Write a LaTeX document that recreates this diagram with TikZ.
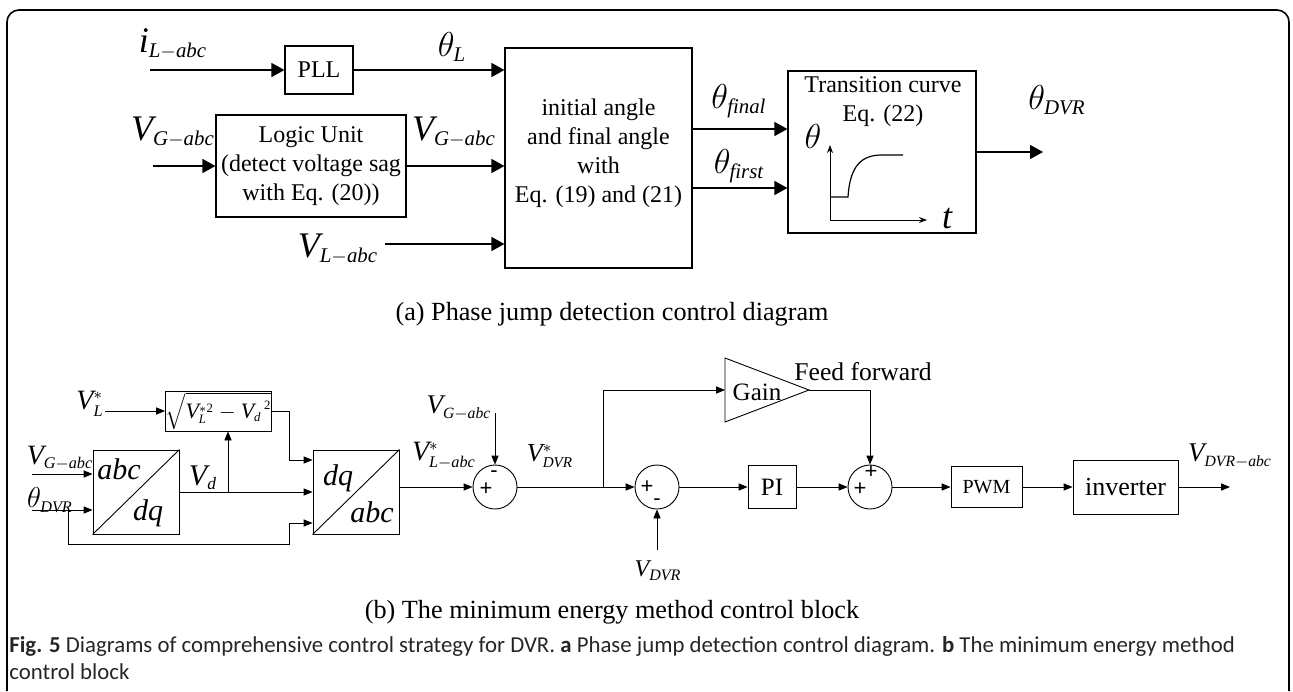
\documentclass[tikz,border=0pt]{standalone}
\usepackage{fontspec}
\setmainfont{Liberation Serif}
\newfontfamily\capfont{Carlito}
\newfontfamily\sgnfont{Liberation Sans}
\usetikzlibrary{positioning, arrows.meta, calc}
\def\defaultscriptratio{.58}

\begin{document}
\begin{tikzpicture}[x=0.5pt, y=-0.5pt,
    blockA/.style={draw, line width=0.6pt, inner sep=0pt},
    blockB/.style={draw, line width=0.45pt, inner sep=0pt},
    sumB/.style={draw, circle, line width=0.45pt, minimum size=22pt, inner sep=0pt},
    arrA/.style={line width=0.75pt, -{Triangle[length=6.5pt, width=7pt]}},
    arrB/.style={line width=0.45pt, -{Triangle[length=4.5pt, width=3.6pt]}},
    axisA/.style={line width=0.5pt, -{Stealth[length=4pt, width=3pt]}},
    lineB/.style={line width=0.45pt},
    txtA/.style={font=\fontsize{12}{14.5}\selectfont, align=center},
    txtB/.style={font=\fontsize{12.5}{14}\selectfont, inner sep=0pt},
    symA/.style={font=\fontsize{18}{20}\selectfont, inner sep=0pt},
    symB/.style={font=\fontsize{14}{16}\selectfont, inner sep=0pt},
    sgnB/.style={font=\sgnfont\fontsize{11}{12}\selectfont, inner sep=0pt},
    capT/.style={font=\fontsize{13.1}{15}\selectfont, inner sep=0pt, anchor=base},
    capF/.style={font=\capfont\fontsize{11.4}{13}\selectfont, inner sep=0pt, anchor=base west, text=black!85},
  ]
  \useasboundingbox (0,0) rectangle (1293,691);
  % outer frame, open at the bottom
  \draw[line width=0.8pt, rounded corners=6pt] (7,691) -- (7,10) -- (1289,10) -- (1289,691);

  % (a) phase jump detection
  \node[blockA, txtA, minimum width=34pt, minimum height=24pt] (pll) at (319,70) {PLL};
  \node[blockA, txtA, minimum width=95pt, minimum height=51pt] (logic) at (311,166)
    {Logic Unit\\(detect voltage sag\\with Eq. (20))};
  \node[blockA, minimum width=93.5pt, minimum height=110pt] (ang) at (598.5,158) {};
  \node[txtA] (angTxt) at (598.5,153) {initial angle\\and final angle\\with\\Eq. (19) and (21)};
  \node[blockA, minimum width=94pt, minimum height=81pt] (trans) at (882,152) {};
  \node[txtA] (transTxt) at (883,102) {Transition curve\\Eq. (22)};

  \node[symA] (iL) at (173,44) {$\mathit{i_{L-abc}}$};
  \node[symA] (thL) at (452,47) {$\theta_{\mathit{L}}$};
  \node[symA] (vGa) at (173,132) {$\mathit{V_{G-abc}}$};
  \node[symA] (vGo) at (454,132) {$\mathit{V_{G-abc}}$};
  \node[symA] (vLa) at (338,249) {$\mathit{V_{L-abc}}$};
  \node[symA] (thFin) at (739,101) {$\theta_{\mathit{final}}$};
  \node[symA] (thFir) at (739,166) {$\theta_{\mathit{first}}$};
  \node[symA] (thDVR) at (1057,100) {$\theta_{\mathit{DVR}}$};

  \coordinate (iLin) at (150,70);
  \coordinate (vGin) at (153,166);
  \coordinate (vLin) at (385,244);
  \coordinate (thOut) at (1043,152);
  \path (ang.east) ++(0,-29) coordinate (finOut);
  \path (ang.east) ++(0,30) coordinate (firOut);
  \draw[arrA] (iLin) -- (pll.west);
  \draw[arrA] (pll.east) -- (pll.east -| ang.west);
  \draw[arrA] (vGin) -- (logic.west);
  \draw[arrA] (logic.east) -- (logic.east -| ang.west);
  \draw[arrA] (vLin) -- (vLin -| ang.west);
  \draw[arrA] (finOut) -- (finOut -| trans.west);
  \draw[arrA] (firOut) -- (firOut -| trans.west);
  \draw[arrA] (trans.east) -- (thOut);

  % small step response sketch inside the transition block
  \node[symA] (thAx) at (813,136) {$\theta$};
  \node[symA] (tAx) at (947,219) {$\mathit{t}$};
  \draw[axisA] (830,220) -- (830,145);
  \draw[axisA] (830,220) -- (927,220);
  \draw[line width=0.6pt] (830,197) -- (848,197) .. controls (850,165) and (862,155) .. (882,155) -- (903,155);

  \node[capT] (capA) at (612,320) {(a) Phase jump detection control diagram};

  % (b) minimum energy method
  \node[blockB, minimum width=52.5pt, minimum height=20pt, font=\fontsize{11}{12}\selectfont] (sq) at (218.5,411)
    {$\sqrt{\mathit{V}^{*\mathrm{2}}_{\mathit{L}}-\mathit{V_d}^{\,\mathrm{2}}}$};
  \node[blockB, minimum width=43pt, minimum height=42pt] (abcdq) at (136,492) {};
  \draw[lineB] (abcdq.south west) -- (abcdq.north east);
  \node[font=\fontsize{15}{16}\selectfont, inner sep=0pt] (abcA) at (119,469) {$\mathit{abc}$};
  \node[font=\fontsize{15}{16}\selectfont, inner sep=0pt] (dqA) at (148,513) {$\mathit{dq}$};
  \node[blockB, minimum width=43pt, minimum height=42pt] (dqabc) at (356,492) {};
  \draw[lineB] (dqabc.south west) -- (dqabc.north east);
  \node[font=\fontsize{15}{16}\selectfont, inner sep=0pt] (dqB) at (338,478) {$\mathit{dq}$};
  \node[font=\fontsize{15}{16}\selectfont, inner sep=0pt] (abcB) at (372,512) {$\mathit{abc}$};

  \node[sumB] (s1) at (495,487) {};
  \node[sgnB] (s1a) at (486,489) {+};
  \node[sgnB] (s1b) at (494,474) {-};
  \node[sumB] (s2) at (657,487) {};
  \node[sgnB] (s2a) at (647,487) {+};
  \node[sgnB] (s2b) at (657,502) {-};
  \node[sumB] (s3) at (870,487) {};
  \node[sgnB] (s3a) at (871,472) {+};
  \node[sgnB] (s3b) at (860,489) {+};
  \node[blockB, txtB, minimum width=24pt, minimum height=21.5pt] (pi) at (772,487) {PI};
  \node[blockB, txtB, font=\fontsize{10}{12}\selectfont, minimum width=35.5pt, minimum height=20.5pt] (pwm) at (986.5,487) {PWM};
  \node[blockB, txtB, font=\fontsize{13}{14}\selectfont, minimum width=52.5pt, minimum height=27pt] (inv) at (1125.5,487) {inverter};

  % gain triangle of the feed forward path
  \coordinate (gainIn) at (725,390);
  \coordinate (gainOut) at (809,390);
  \draw[lineB] (725,358) -- (gainOut) -- (725,422) -- cycle;
  \node[txtB] (gainTxt) at (757,392) {Gain};
  \node[txtB, font=\fontsize{12.8}{14}\selectfont] (ffTxt) at (863,372) {Feed forward};

  \node[symB] (vLs) at (90,404) {$\mathit{V}^{*}_{\mathit{L}}$};
  \node[symB] (vGb) at (60,458) {$\mathit{V_{G-abc}}$};
  \node[symB] (thB) at (50,500) {$\theta_{\mathit{DVR}}$};
  \node[symB, font=\fontsize{15}{16}\selectfont] (vd) at (203,478) {$\mathit{V_d}$};
  \node[symB] (vLst) at (444,456) {$\mathit{V}^{*}_{\mathit{L-abc}}$};
  \node[symB, font=\fontsize{13.5}{15}\selectfont] (vGs) at (459,408) {$\mathit{V_{G-abc}}$};
  \node[symB, font=\fontsize{13}{15}\selectfont] (vDs) at (550,456) {$\mathit{V}^{*}_{\mathit{DVR}}$};
  \node[symB, font=\fontsize{12}{14}\selectfont] (vD) at (658,571) {$\mathit{V_{DVR}}$};
  \node[symB, font=\fontsize{13.5}{15}\selectfont] (vOutT) at (1230,456) {$\mathit{V_{DVR-abc}}$};

  \coordinate (vLsIn) at (105,411);
  \coordinate (vGbIn) at (32,474);
  \coordinate (thIn) at (32,510);
  \coordinate (thTap) at (68,510);
  \coordinate (vdTap) at (228,492);
  \coordinate (jog) at (289,0);
  \path (dqabc.west) ++(0,31) coordinate (thDq);
  \path (dqabc.west) ++(0,-32) coordinate (sqDq);
  \coordinate (vGsIn) at (495,413);
  \coordinate (ffTap) at (603,487);
  \coordinate (vDin) at (657,550);
  \coordinate (vOut) at (1230,487);

  \draw[arrB] (vLsIn) -- (sq.west);
  \draw[arrB] (vGbIn) -- (vGbIn -| abcdq.west);
  \draw[arrB] (thIn) -- (thIn -| abcdq.west);
  \draw[arrB] (thTap) -- ++(0,34) -| (jog |- thDq) -- (thDq);
  \draw[arrB] (abcdq.east) -- (abcdq.east -| dqabc.west);
  \draw[arrB] (vdTap) -- (vdTap |- sq.south);
  \draw[arrB] (sq.east) -| (jog |- sqDq) -- (sqDq);
  \draw[arrB] (dqabc.east |- s1) -- (s1.west);
  \draw[arrB] (vGsIn) -- (s1.north);
  \draw[arrB] (s1.east) -- (s2.west);
  \draw[arrB] (ffTap) |- (gainIn);
  \draw[arrB] (gainOut) -| (s3.north);
  \draw[arrB] (vDin) -- (s2.south);
  \draw[arrB] (s2.east) -- (pi.west);
  \draw[arrB] (pi.east) -- (s3.west);
  \draw[arrB] (s3.east) -- (pwm.west);
  \draw[arrB] (pwm.east) -- (inv.west);
  \draw[arrB] (inv.east) -- (vOut);

  \node[capT] (capB) at (612,618) {(b) The minimum energy method control block};

  % figure caption, two lines
  \node[capF] (figCapA) at (9,652)
    {\textbf{Fig. 5} Diagrams of comprehensive control strategy for DVR. \textbf{a} Phase jump detection control diagram. \textbf{b} The minimum energy method};
  \node[capF] (figCapB) at (9,679) {control block};
\end{tikzpicture}
\end{document}
